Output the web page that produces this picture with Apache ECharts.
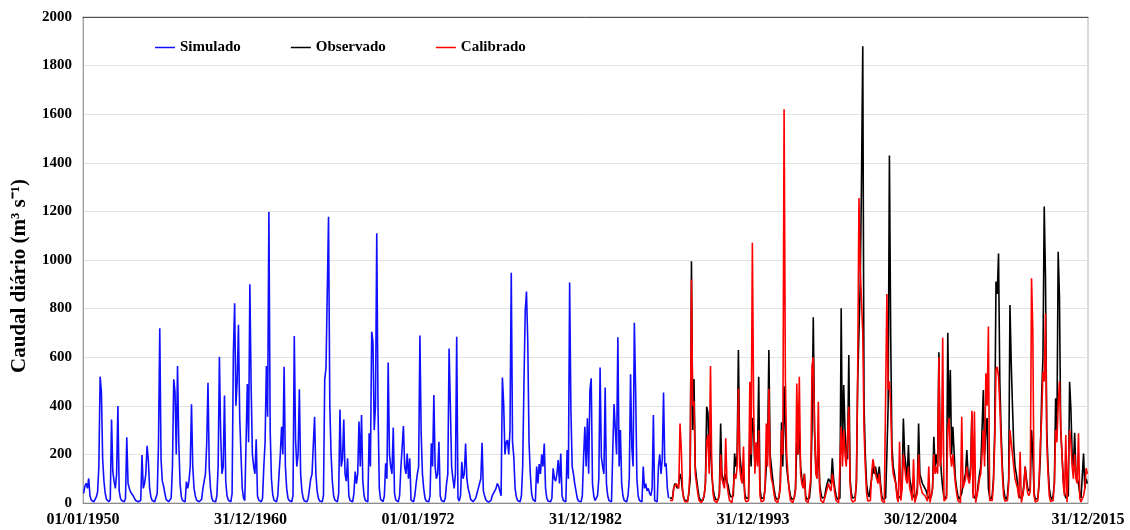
<!DOCTYPE html>
<html lang="pt">
<head>
<meta charset="UTF-8">
<title>Caudal diário</title>
<script src="https://cdn.jsdelivr.net/npm/echarts@6/dist/echarts.min.js"></script>
<style>
  html, body { margin: 0; padding: 0; background: #fff; }
  #chart { width: 1130px; height: 530px; }
</style>
</head>
<body>
<div id="chart"></div>
<script type="text/javascript">
    // eixo x em anos decimais, rótulos de 11 em 11 anos
    var dateLabels = ['01/01/1950', '31/12/1960', '01/01/1972', '31/12/1982', '31/12/1993', '30/12/2004', '31/12/2015'];

    // valores mensais (m3/s), de Jan/1950 a Jun/1988
    var simStart = 1950;
    var simulado = [
        40, 70, 81, 60, 101, 30, 12, 7, 5, 9, 25, 45,          // 1950
        150, 520, 458, 180, 90, 40, 15, 8, 6, 15, 344, 129,    // 1951
        90, 60, 120, 399, 50, 20, 10, 6, 5, 20, 270, 80,       // 1952
        60, 45, 50, 30, 20, 10, 6, 5, 5, 10, 197, 60,          // 1953
        80, 120, 235, 177, 60, 25, 10, 6, 5, 10, 40, 245,      // 1954
        719, 180, 90, 70, 40, 15, 8, 5, 5, 20, 150, 509,       // 1955
        458, 200, 564, 245, 80, 25, 10, 6, 5, 88, 60, 90,      // 1956
        150, 406, 150, 60, 30, 12, 8, 5, 5, 15, 60, 90,        // 1957
        120, 245, 495, 143, 60, 20, 8, 5, 5, 30, 150, 602,     // 1958
        280, 120, 150, 442, 90, 30, 12, 6, 5, 40, 616, 822,    // 1959
        400, 500, 733, 350, 200, 60, 20, 10, 8, 490, 250, 900, // 1960
        479, 200, 150, 120, 262, 30, 12, 7, 5, 20, 150, 250,   // 1961
        564, 355, 1199, 300, 100, 35, 12, 7, 5, 30, 120, 200,  // 1962
        314, 200, 561, 150, 60, 20, 10, 6, 5, 30, 687, 260,    // 1963
        150, 200, 468, 120, 50, 20, 8, 5, 5, 20, 60, 100,      // 1964
        120, 239, 355, 120, 50, 20, 8, 5, 5, 30, 510, 554,     // 1965
        547, 1178, 400, 200, 90, 30, 12, 6, 5, 40, 385, 150,   // 1966
        180, 344, 120, 90, 184, 30, 10, 6, 5, 40, 129, 80,     // 1967
        120, 335, 150, 362, 90, 30, 10, 6, 5, 287, 150, 705,   // 1968
        664, 300, 400, 1110, 390, 60, 15, 8, 6, 30, 163, 100,  // 1969
        578, 200, 150, 120, 311, 40, 12, 6, 5, 30, 143, 150,   // 1970
        317, 150, 120, 204, 100, 184, 12, 6, 5, 30, 80, 120,   // 1971
        150, 689, 287, 120, 60, 20, 8, 5, 5, 30, 246, 150,     // 1972
        444, 150, 100, 120, 252, 30, 10, 6, 5, 20, 80, 120,    // 1973
        636, 399, 150, 100, 60, 120, 684, 20, 8, 30, 170, 100, // 1974
        120, 245, 100, 60, 40, 15, 8, 5, 5, 20, 40, 60,        // 1975
        60, 100, 248, 50, 30, 12, 6, 4, 4, 10, 30, 40,         // 1976
        50, 60, 80, 70, 50, 30, 516, 410, 200, 250, 259, 200,  // 1977
        300, 948, 250, 190, 60, 25, 10, 6, 5, 30, 150, 492,    // 1978
        790, 870, 664, 250, 120, 40, 15, 8, 6, 150, 80, 160,   // 1979
        120, 200, 150, 245, 60, 20, 8, 5, 5, 20, 143, 100,     // 1980
        90, 120, 177, 80, 204, 30, 10, 6, 5, 218, 100, 907,    // 1981
        383, 150, 120, 80, 50, 20, 8, 5, 5, 30, 190, 314,      // 1982
        150, 349, 120, 465, 513, 80, 30, 10, 6, 30, 100, 558,  // 1983
        190, 150, 120, 475, 80, 30, 10, 6, 5, 218, 407, 407,   // 1984
        200, 682, 150, 300, 80, 30, 10, 6, 5, 30, 100, 530,    // 1985
        230, 150, 742, 465, 100, 30, 10, 6, 5, 150, 60, 80,    // 1986
        50, 60, 40, 30, 60, 362, 10, 6, 5, 150, 200, 120,      // 1987
        180, 455, 150, 163, 60, 20                             // 1988 (Jan-Jun)
    ];

    // observado e calibrado: de Jul/1988 a Dez/2015
    var obsStart = 1988.5;
    var observado = [
        20, 15, 20, 60, 80, 70,                                // 1988 (Jul-Dez)
        60, 80, 120, 100, 50, 20, 10, 8, 10, 40, 100, 995,     // 1989
        300, 510, 150, 100, 60, 25, 12, 8, 10, 30, 80, 396,    // 1990
        372, 150, 300, 120, 60, 30, 15, 10, 12, 40, 327, 120,  // 1991
        100, 80, 120, 90, 70, 40, 25, 20, 30, 204, 150, 200,   // 1992
        630, 200, 150, 100, 120, 40, 20, 15, 20, 300, 150, 350, // 1993
        300, 150, 200, 180, 520, 60, 20, 15, 20, 60, 150, 200, // 1994
        630, 200, 150, 100, 60, 30, 15, 12, 20, 80, 332, 150,  // 1995
        480, 300, 150, 100, 60, 30, 15, 12, 20, 60, 250, 200,  // 1996
        300, 150, 100, 80, 120, 30, 15, 12, 20, 80, 300, 764,  // 1997
        300, 150, 120, 250, 80, 40, 20, 15, 25, 60, 80, 100,   // 1998
        100, 80, 184, 100, 60, 30, 15, 12, 20, 801, 200, 486,  // 1999
        300, 200, 180, 609, 100, 40, 20, 15, 25, 80, 500, 700, // 2000
        900, 1320, 1880, 400, 200, 80, 40, 25, 30, 100, 150, 120, // 2001
        150, 120, 100, 150, 80, 30, 15, 12, 20, 200, 400, 1430, // 2002
        691, 232, 150, 120, 80, 40, 20, 15, 30, 80, 348, 200,  // 2003
        150, 100, 239, 100, 70, 40, 25, 20, 30, 60, 327, 120,  // 2004
        100, 80, 70, 60, 50, 30, 20, 15, 25, 60, 273, 150,     // 2005
        200, 150, 620, 200, 120, 60, 25, 15, 30, 701, 300, 547, // 2006
        200, 314, 307, 100, 60, 30, 15, 12, 40, 80, 100, 120,  // 2007
        218, 120, 100, 150, 369, 40, 20, 15, 30, 80, 120, 150, // 2008
        300, 465, 200, 300, 350, 60, 25, 15, 30, 100, 300, 911, // 2009
        860, 1027, 500, 300, 150, 60, 25, 15, 30, 100, 815, 575, // 2010
        396, 232, 150, 120, 80, 40, 20, 15, 30, 80, 150, 100,  // 2011
        60, 50, 60, 300, 200, 40, 15, 10, 20, 80, 200, 451,    // 2012
        600, 1220, 925, 300, 150, 60, 25, 15, 30, 80, 431, 300, // 2013
        1034, 849, 300, 200, 100, 40, 20, 15, 30, 499, 390, 200, // 2014
        150, 289, 120, 100, 80, 40, 20, 15, 204, 60, 100, 80   // 2015
    ];
    var calibrado = [
        10, 5, 10, 60, 70, 80,                                 // 1988 (Jul-Dez)
        70, 60, 327, 218, 50, 15, 5, 3, 5, 50, 150, 920,       // 1989
        400, 420, 120, 80, 40, 10, 4, 2, 5, 30, 80, 250,       // 1990
        280, 120, 564, 150, 40, 10, 4, 2, 5, 30, 200, 100,     // 1991
        80, 60, 266, 80, 40, 10, 3, 2, 5, 120, 100, 150,       // 1992
        470, 150, 100, 80, 232, 20, 5, 3, 10, 499, 200, 1071,  // 1993
        400, 120, 250, 150, 300, 30, 5, 3, 10, 60, 327, 150,   // 1994
        470, 150, 100, 80, 40, 10, 3, 2, 10, 60, 300, 200,     // 1995
        1620, 520, 200, 120, 50, 10, 3, 2, 10, 50, 492, 200,   // 1996
        520, 120, 80, 60, 120, 10, 3, 2, 10, 100, 564, 600,    // 1997
        300, 120, 100, 417, 60, 10, 3, 2, 10, 40, 60, 80,      // 1998
        60, 50, 120, 80, 40, 10, 3, 2, 10, 314, 150, 300,      // 1999
        200, 150, 150, 396, 80, 15, 4, 3, 10, 100, 534, 1255,  // 2000
        960, 960, 700, 300, 150, 40, 8, 4, 10, 120, 180, 150,  // 2001
        120, 100, 80, 120, 60, 10, 3, 2, 10, 860, 465, 500,    // 2002
        400, 180, 120, 100, 80, 20, 4, 252, 10, 60, 200, 150,  // 2003
        100, 80, 150, 60, 40, 10, 180, 2, 8, 40, 200, 80,      // 2004
        60, 40, 40, 30, 20, 8, 150, 2, 8, 60, 200, 120,        // 2005
        150, 120, 600, 150, 200, 680, 8, 3, 20, 300, 350, 200, // 2006
        150, 200, 200, 80, 40, 10, 3, 2, 355, 60, 80, 100,     // 2007
        150, 100, 80, 120, 380, 20, 376, 2, 10, 60, 100, 120,  // 2008
        200, 300, 150, 534, 400, 726, 10, 3, 10, 80, 250, 550, // 2009
        560, 520, 400, 250, 120, 30, 8, 3, 10, 80, 300, 250,   // 2010
        250, 150, 100, 80, 60, 20, 211, 2, 10, 60, 150, 80,    // 2011
        40, 30, 50, 925, 712, 30, 4, 2, 10, 100, 250, 350,     // 2012
        540, 500, 780, 250, 120, 30, 6, 3, 10, 80, 300, 250,   // 2013
        400, 500, 314, 200, 80, 30, 280, 3, 10, 300, 250, 150, // 2014
        100, 200, 100, 80, 287, 20, 4, 2, 30, 60, 143, 120     // 2015
    ];

    function toPoints(values, start) {
        return values.map(function (v, i) {
            return [start + (i + 0.5) / 12, v];
        });
    }

    var myChart = echarts.init(document.getElementById('chart'));
    var serifBold = { fontFamily: 'Liberation Serif', fontWeight: 'bold', color: '#000' };

    var option = {
        animation: false,
        backgroundColor: '#fff',
        grid: {
            left: 83, right: 42, top: 17, bottom: 27,
            show: true, borderColor: '#b4b4b4', borderWidth: 1
        },
        legend: {
            left: 150, top: 35,
            icon: 'rect', itemWidth: 20, itemHeight: 1.5, itemGap: 50,
            textStyle: Object.assign({ fontSize: 15 }, serifBold),
            data: ['Simulado', 'Observado', 'Calibrado']
        },
        // título do eixo y colocado à mão, como na figura original
        graphic: [{
            type: 'text',
            x: 20, y: 276,
            rotation: Math.PI / 2,
            style: {
                text: 'Caudal diário (m³ s⁻¹)', fontSize: 21,
                align: 'center', verticalAlign: 'middle',
                fill: '#000', fontFamily: 'Liberation Serif', fontWeight: 'bold'
            }
        }],
        xAxis: [
            {
                type: 'value', min: 1950, max: 2016, interval: 11,
                axisLine: { lineStyle: { color: '#8c8c8c' } },
                axisTick: { show: false },
                splitLine: { show: false },
                axisLabel: Object.assign({
                    fontSize: 16, margin: 9,
                    showMinLabel: true, showMaxLabel: true,
                    formatter: function (v) {
                        return dateLabels[Math.round((v - 1950) / 11)] || '';
                    }
                }, serifBold)
            },
            {
                type: 'value', position: 'top', min: 1950, max: 2016,
                axisLine: { show: true, lineStyle: { color: '#505050' } },
                axisTick: { show: false },
                axisLabel: { show: false },
                splitLine: { show: false }
            }
        ],
        yAxis: {
            type: 'value', min: 0, max: 2000, interval: 200,
            axisLine: { show: true, lineStyle: { color: '#a0a0a0' } },
            axisTick: { show: false },
            splitLine: { lineStyle: { color: '#e3e3e3' } },
            axisLabel: Object.assign({
                fontSize: 15, margin: 11,
                formatter: function (v) { return String(v); }
            }, serifBold)
        },
        series: [
            {
                name: 'Simulado', type: 'line', color: '#1010ff',
                symbol: 'none', lineStyle: { width: 1.6 },
                data: toPoints(simulado, simStart)
            },
            {
                name: 'Observado', type: 'line', color: '#000000',
                symbol: 'none', lineStyle: { width: 1.6 },
                data: toPoints(observado, obsStart)
            },
            {
                name: 'Calibrado', type: 'line', color: '#ff0000',
                symbol: 'none', lineStyle: { width: 1.6 },
                data: toPoints(calibrado, obsStart)
            }
        ]
    };
    myChart.setOption(option);
</script>
</body>
</html>
